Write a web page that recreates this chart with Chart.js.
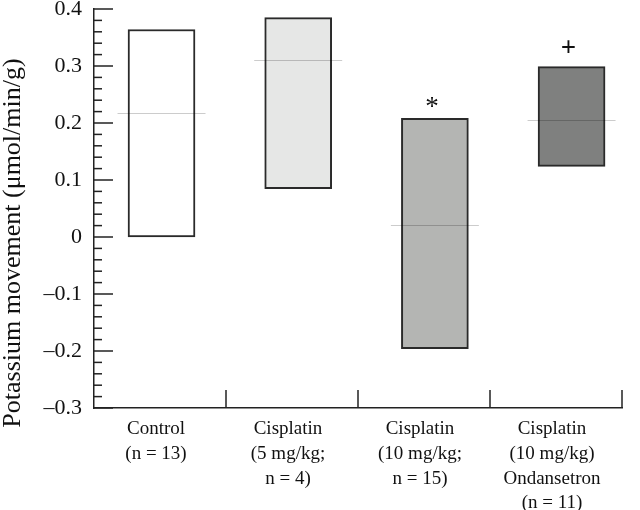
<!DOCTYPE html>
<html>
<head>
<meta charset="utf-8">
<script src="https://cdn.jsdelivr.net/npm/chart.js@4.4.1/dist/chart.umd.min.js"></script>
<style>
  html, body { margin: 0; padding: 0; background: #fff; }
</style>
</head>
<body>
<canvas id="myChart" width="640" height="510"></canvas>
<script>
// groups along the x axis (multi-line labels)
const categories = [
  ['Control', '(n = 13)'],
  ['Cisplatin', '(5 mg/kg;', 'n = 4)'],
  ['Cisplatin', '(10 mg/kg;', 'n = 15)'],
  ['Cisplatin', '(10 mg/kg)', 'Ondansetron', '(n = 11)'],
];
// range of each bar and its median line
const lows = [0.0, 0.085, -0.196, 0.124];
const highs = [0.364, 0.385, 0.208, 0.299];
const medians = [0.217, 0.31, 0.021, 0.205];
// significance markers above the bars
const markers = ['', '', '*', '+'];
const barColors = ['#ffffff', '#e6e7e6', '#b4b5b3', '#7f807f'];
const yTitle = 'Potassium movement (\u03bcmol/min/g)';

const serif = '"Liberation Serif", "DejaVu Serif", serif';
const ink = '#222';

const fmtTick = (v) => {
  const r = Math.round(v * 10) / 10;
  if (r === 0) return '0';
  return (r < 0 ? '\u2013' : '') + Math.abs(r).toFixed(1);
};

const axesPlugin = {
  id: 'axesExtras',
  afterDraw: (chart) => {
    const ctx = chart.ctx;
    const area = chart.chartArea;
    const y = chart.scales.y;
    const x = chart.scales.x;
    ctx.save();
    ctx.strokeStyle = ink;
    ctx.lineWidth = 1.5;
    // inward y ticks, 4 minor ticks between majors
    const ticks = y.ticks;
    ticks.forEach((t, i) => {
      const py = y.getPixelForValue(t.value);
      ctx.beginPath();
      ctx.moveTo(area.left, py);
      ctx.lineTo(area.left + 19, py);
      ctx.stroke();
      if (i < ticks.length - 1) {
        const step = (ticks[i + 1].value - t.value) / 5;
        for (let k = 1; k < 5; k++) {
          const pm = y.getPixelForValue(t.value + step * k);
          ctx.beginPath();
          ctx.moveTo(area.left, pm);
          ctx.lineTo(area.left + 8, pm);
          ctx.stroke();
        }
      }
    });
    // upward x ticks at group boundaries
    categories.forEach((c, i) => {
      const px = Math.round(x.getPixelForValue(i + 0.5));
      ctx.beginPath();
      ctx.moveTo(px, area.bottom);
      ctx.lineTo(px, area.bottom - 18);
      ctx.stroke();
    });
    // y axis title
    ctx.fillStyle = '#111';
    ctx.font = '26px ' + serif;
    ctx.textAlign = 'center';
    ctx.textBaseline = 'middle';
    ctx.translate(13, 243);
    ctx.rotate(-Math.PI / 2);
    ctx.fillText(yTitle, 0, 0);
    ctx.restore();
  },
  afterDatasetsDraw: (chart) => {
    const ctx = chart.ctx;
    const y = chart.scales.y;
    const xb = chart.scales.xb;
    ctx.save();
    // median lines, a bit wider than the bars
    ctx.strokeStyle = 'rgba(0,0,0,0.2)';
    ctx.lineWidth = 1;
    medians.forEach((m, i) => {
      const cx = xb.getPixelForValue(i);
      const py = Math.round(y.getPixelForValue(m)) + 0.5;
      ctx.beginPath();
      ctx.moveTo(cx - 44, py);
      ctx.lineTo(cx + 44, py);
      ctx.stroke();
    });
    ctx.fillStyle = '#111';
    ctx.textAlign = 'center';
    ctx.textBaseline = 'alphabetic';
    markers.forEach((mk, i) => {
      if (!mk) return;
      const cx = xb.getPixelForValue(i);
      const top = y.getPixelForValue(highs[i]);
      if (mk === '*') {
        ctx.font = '27px ' + serif;
        ctx.fillText(mk, cx - 3, top - 3);
      } else {
        ctx.font = 'bold 27px ' + serif;
        ctx.fillText(mk, cx - 3, top - 11);
      }
    });
    ctx.restore();
  },
};

const ctx = document.getElementById('myChart').getContext('2d');
new Chart(ctx, {
  type: 'bar',
  data: {
    labels: categories,
    datasets: [
      {
        xAxisID: 'xb',
        data: lows.map((lo, i) => ({x: i, y: [lo, highs[i]]})),
        backgroundColor: barColors,
        borderColor: '#2a2a2a',
        borderWidth: 2,
        borderSkipped: false,
        barThickness: 67,
      },
    ],
  },
  options: {
    responsive: false,
    animation: false,
    devicePixelRatio: 1,
    layout: {
      autoPadding: false,
      padding: {left: 0, top: 9, right: 18, bottom: 0},
    },
    plugins: {
      legend: {display: false},
      tooltip: {enabled: false},
    },
    scales: {
      x: {
        type: 'category',
        offset: true,
        grid: {display: false, drawTicks: false},
        border: {display: true, color: ink, width: 1.5},
        ticks: {
          padding: 9,
          labelOffset: -4,
          maxRotation: 0,
          autoSkip: false,
          color: '#111',
          font: {family: serif, size: 19, lineHeight: 1.3},
        },
        afterFit: (scale) => {
          scale.height = 102;
        },
      },
      xb: {
        type: 'linear',
        display: false,
        offset: false,
        min: -0.494,
        max: 3.369,
      },
      y: {
        type: 'linear',
        min: -0.3,
        max: 0.4,
        grid: {display: false, drawTicks: false},
        border: {display: true, color: ink, width: 1.5},
        ticks: {
          stepSize: 0.1,
          padding: 12,
          color: '#111',
          font: {family: serif, size: 22},
          callback: (v) => fmtTick(v),
        },
        afterFit: (scale) => {
          scale.width = 94;
          scale.paddingTop = 0;
          scale.paddingBottom = 0;
        },
      },
    },
  },
  plugins: [axesPlugin],
});
</script>
</body>
</html>
